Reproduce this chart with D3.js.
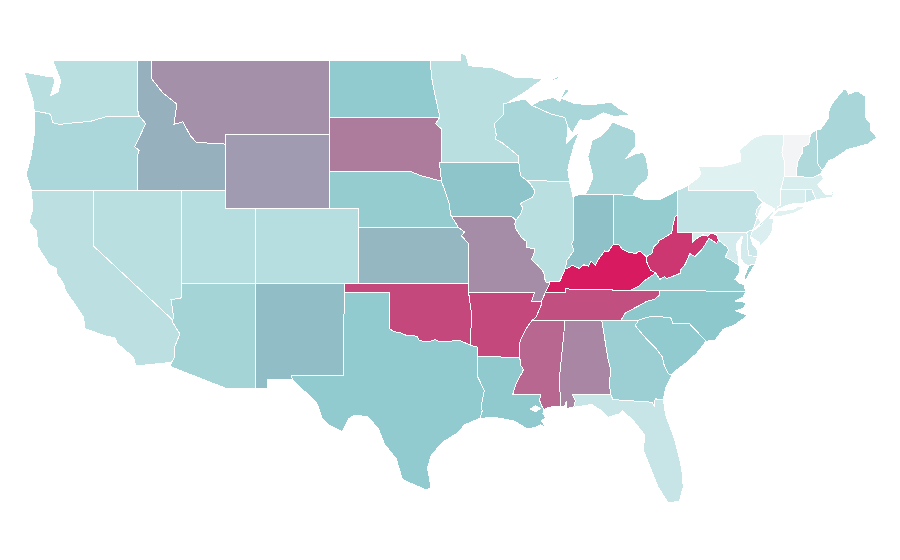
<!DOCTYPE html>
<meta charset="utf-8">
<style>
body { margin: 0; background: #fff; }
.state { stroke: #fff; stroke-width: 1px; shape-rendering: crispEdges; fill-rule: evenodd; }
</style>
<svg width="900" height="560"></svg>
<script src="https://d3js.org/d3.v7.min.js"></script>
<script>

// shared borders, [lon, lat], so neighbouring states line up
var stCroix = [[-92.01,46.71],[-92.29,46.66],[-92.29,46.07],[-92.88,45.6],[-92.75,45.0],[-92.8,44.75],[-92.35,44.56],[-91.92,44.3],[-91.25,43.85],[-91.22,43.5]];
var missWi = [[-91.22,43.5],[-91.15,43.0],[-91.06,42.75],[-90.64,42.51]];
var missIa = [[-90.64,42.51],[-90.42,42.33],[-90.15,41.98],[-90.18,41.8],[-90.34,41.6],[-91.05,41.33],[-91.1,41.23],[-90.95,41.07],[-91.11,40.7],[-91.42,40.38]];
var missMo = [[-91.42,40.38],[-91.5,40.2],[-91.42,39.93],[-91.06,39.47],[-90.73,39.25],[-90.67,38.93],[-90.12,38.83],[-90.18,38.63],[-90.37,38.26],[-89.95,37.96],[-89.52,37.57],[-89.51,37.3],[-89.38,37.05],[-89.13,36.98]];
var missBoot = [[-89.13,36.98],[-89.42,36.5],[-89.7,36.0]];
var missTn = [[-89.7,36.0],[-89.67,35.88],[-90.07,35.13],[-90.3,35.0]];
var missAr = [[-90.3,35.0],[-90.58,34.72],[-90.93,34.22],[-91.08,33.97],[-91.2,33.7],[-91.16,33.0]];
var missLa = [[-91.16,33.0],[-91.09,32.56],[-90.91,32.33],[-91.03,32.12],[-91.4,31.6],[-91.52,31.27],[-91.63,31.0]];
var pearl = [[-89.73,31.0],[-89.82,30.67],[-89.63,30.3],[-89.53,30.18]];
var wabash = [[-87.52,39.35],[-87.65,39.1],[-87.5,38.75],[-87.98,38.2],[-88.06,37.8]];
var ohioIl = [[-89.13,36.98],[-89.17,37.07],[-88.5,37.07],[-88.42,37.15],[-88.06,37.8]];
var ohioIn = [[-88.06,37.8],[-87.93,37.79],[-87.6,37.95],[-87.13,37.79],[-86.82,37.98],[-86.52,37.92],[-86.33,38.17],[-86.05,37.96],[-85.85,38.26],[-85.42,38.73],[-85.17,38.69],[-84.82,39.1]];
var ohioOh = [[-84.82,39.1],[-84.48,39.1],[-84.23,38.83],[-83.78,38.65],[-83.3,38.6],[-83.03,38.73],[-82.6,38.42]];
var ohioWv = [[-82.6,38.42],[-82.22,38.6],[-82.09,38.97],[-81.75,39.18],[-81.75,39.27],[-81.45,39.41],[-80.87,39.7],[-80.83,40.0],[-80.65,40.58],[-80.52,40.64]];
var bigSandy = [[-82.6,38.42],[-82.59,38.17],[-82.3,37.68],[-81.97,37.54]];
var kyVa = [[-81.97,37.54],[-82.72,37.12],[-83.07,36.85],[-83.68,36.6]];
var wvVa = [[-81.97,37.54],[-81.68,37.2],[-81.36,37.33],[-81.22,37.24],[-80.85,37.35],[-80.3,37.52],[-80.3,37.68],[-79.97,38.0],[-79.65,38.58],[-79.3,38.42],[-78.87,38.77],[-78.35,39.4],[-77.83,39.13],[-77.72,39.32]];
var potomacWv = [[-79.48,39.21],[-79.07,39.47],[-78.77,39.6],[-78.45,39.52],[-78.22,39.68],[-77.83,39.6],[-77.72,39.32]];
var potomacVa = [[-77.72,39.32],[-77.12,38.93],[-77.04,38.79],[-77.25,38.4],[-76.95,38.27],[-76.32,37.95]];
var tnNc = [[-81.68,36.59],[-81.7,36.35],[-82.05,36.12],[-82.6,36.0],[-83.1,35.77],[-84.0,35.4],[-84.32,34.99]];
var ncSc = [[-83.11,35.0],[-82.3,35.2],[-81.04,35.15],[-80.93,35.1],[-80.8,34.82],[-79.67,34.8],[-78.55,33.86]];
var savannah = [[-83.11,35.0],[-83.35,34.7],[-82.55,33.95],[-81.95,33.48],[-81.5,33.0],[-81.4,32.6],[-81.12,32.12],[-80.87,32.03]];
var gaFl = [[-85.0,31.0],[-84.86,30.71],[-82.2,30.57],[-82.05,30.36],[-82.0,30.75],[-81.44,30.71]];
var chatt = [[-85.61,34.98],[-85.18,32.87],[-85.0,32.3],[-85.1,31.57],[-85.0,31.0]];
var perdido = [[-87.6,31.0],[-87.4,30.65],[-87.5,30.3]];
var msAl = [[-88.2,35.0],[-88.1,34.9],[-88.47,31.9],[-88.4,30.37]];
var redRiver = [[-100.0,34.56],[-99.7,34.38],[-99.2,34.3],[-98.95,34.2],[-98.1,34.13],[-97.95,33.88],[-97.2,33.85],[-96.9,33.95],[-96.6,33.85],[-95.8,33.87],[-95.2,33.9],[-94.48,33.64],[-94.04,33.55]];
var sabine = [[-94.04,32.0],[-93.55,31.2],[-93.75,30.4],[-93.7,30.1],[-93.85,29.7]];
var missouriNe = [[-96.45,42.49],[-96.1,41.7],[-95.9,41.2],[-95.85,40.7],[-95.77,40.59],[-95.31,40.0]];
var missouriKs = [[-95.31,40.0],[-94.9,39.75],[-95.1,39.55],[-94.61,39.11]];
var bigSioux = [[-96.45,43.5],[-96.6,43.5],[-96.45,42.49]];
var redNorth = [[-97.23,49.0],[-97.1,48.0],[-96.85,47.0],[-96.56,45.94]];
var snake = [[-117.04,46.43],[-116.9,46.0],[-116.46,45.6],[-116.9,44.85],[-117.22,44.35],[-116.9,44.15],[-117.03,43.83],[-117.03,42.0]];
var columbia = [[-117.04,46.43],[-116.92,46.0],[-118.98,46.0],[-119.3,45.93],[-120.2,45.72],[-121.2,45.65],[-122.3,45.55],[-122.75,45.65],[-122.9,46.1],[-123.4,46.2],[-124.0,46.27]];
var bitterroot = [[-116.05,49.0],[-116.05,48.0],[-115.3,47.25],[-114.35,46.65],[-114.55,45.55],[-113.95,45.7],[-113.45,44.95],[-113.05,44.6],[-112.3,44.55],[-111.85,44.55],[-111.5,44.55],[-111.05,44.48]];
var colorado = [[-114.63,35.0],[-114.63,34.87],[-114.15,34.25],[-114.53,33.5],[-114.5,33.0],[-114.72,32.72]];
var delaware = [[-75.35,42.0],[-75.07,41.77],[-75.05,41.6],[-74.7,41.36]];
var delawareNj = [[-74.7,41.36],[-75.13,40.98],[-75.2,40.68],[-74.73,40.2],[-75.13,39.95],[-75.42,39.8]];
var connRiver = [[-71.5,45.01],[-71.6,44.5],[-72.05,44.3],[-72.05,44.0],[-72.33,43.6],[-72.45,43.0],[-72.46,42.73]];
var nyNe = [[-73.34,45.01],[-73.35,44.23],[-73.43,44.03],[-73.25,43.55],[-73.27,42.75],[-73.5,42.05]];

function rev(a) { return a.slice().reverse(); }

var stateNames = ["WA","OR","CA","NV","ID","MT","WY","UT","AZ","CO","NM","ND","SD","NE","KS","OK","TX","MN","IA","MO","AR","LA","WI","IL","MI","IN","OH","KY","TN","MS","AL","GA","FL","SC","NC","VA","WV","PA","NY","VT","NH","ME","MA","CT","RI","NJ","DE","MD"];

var stateValues = [28,35,27,28,57,66,63,30,38,30,53,47,72,46,55,87,47,28,51,67,87,48,36,28,36,52,46,100,85,78,69,43,22,47,50,46,92,25,10,0,33,36,14,14,20,12,20,16];

var stateShapes = [
  // WA
  [[[[-117.03,49.0],[-122.75,49.0],[-122.5,48.5],[-122.2,47.9],[-122.4,47.3],[-122.9,47.1],[-122.6,47.9],[-122.75,48.15],[-123.2,48.15],[-124.7,48.38],[-124.1,46.9],[-124.0,46.27]].concat(rev(columbia))]],
  // OR
  [[columbia.concat([[-124.0,45.0],[-124.2,43.9],[-124.55,42.84],[-124.2,42.0]], rev(snake))]],
  // CA
  [[[[-124.2,42.0],[-120.0,42.0],[-120.0,39.0]].concat(colorado, [[-117.12,32.53],[-117.3,33.0],[-118.4,33.75],[-118.5,34.03],[-119.2,34.15],[-120.6,34.55],[-120.65,35.15],[-121.9,36.6],[-122.0,36.95],[-122.5,37.5],[-122.5,37.8],[-123.0,38.0],[-123.75,38.95],[-123.85,39.8],[-124.35,40.3],[-124.1,41.0]])]],
  // NV
  [[[[-120.0,42.0],[-114.04,42.0],[-114.04,36.2],[-114.75,36.1],[-114.57,35.15],[-114.63,35.0],[-120.0,39.0]]]],
  // ID
  [[bitterroot.concat([[-111.05,42.0],[-117.03,42.0]], rev(snake).slice(1), [[-117.03,49.0]])]],
  // MT
  [[bitterroot.concat([[-111.05,45.0],[-104.05,45.0],[-104.05,49.0]])]],
  // WY
  [[[[-111.05,45.0],[-104.05,45.0],[-104.05,41.0],[-111.05,41.0]]]],
  // UT
  [[[[-114.04,42.0],[-111.05,42.0],[-111.05,41.0],[-109.05,41.0],[-109.05,37.0],[-114.04,37.0]]]],
  // AZ
  [[[[-114.04,37.0],[-109.05,37.0],[-109.05,31.33],[-111.07,31.33],[-114.81,32.5]].concat(rev(colorado), [[-114.57,35.15],[-114.75,36.1],[-114.04,36.2]])]],
  // CO
  [[[[-109.05,41.0],[-102.05,41.0],[-102.05,37.0],[-109.05,37.0]]]],
  // NM
  [[[[-109.05,37.0],[-103.0,37.0],[-103.04,36.5],[-103.06,32.0],[-106.62,32.0],[-106.53,31.78],[-108.21,31.78],[-108.21,31.33],[-109.05,31.33]]]],
  // ND
  [[[[-104.05,49.0]].concat(redNorth, [[-104.05,45.94]])]],
  // SD
  [[[[-104.05,45.94],[-96.56,45.94],[-96.85,45.6],[-96.45,45.3]].concat(bigSioux, [[-97.9,42.8],[-98.5,43.0],[-104.05,43.0]])]],
  // NE
  [[[[-104.05,43.0],[-98.5,43.0],[-97.9,42.8]].concat(missouriNe, [[-102.05,40.0],[-102.05,41.0],[-104.05,41.0]])]],
  // KS
  [[missouriKs.concat([[-94.62,37.0],[-102.05,37.0],[-102.05,40.0]])]],
  // OK
  [[[[-103.0,37.0],[-94.62,37.0],[-94.62,36.5],[-94.43,35.4],[-94.48,33.64]].concat(rev(redRiver).slice(1), [[-100.0,36.5],[-103.04,36.5]])]],
  // TX
  [[[[-103.06,32.0],[-103.04,36.5],[-100.0,36.5]].concat(redRiver, [[-94.04,33.02]], sabine, [[-94.9,29.35],[-95.3,28.95],[-96.4,28.4],[-97.15,27.7],[-97.4,27.0],[-97.15,25.96],[-97.5,25.85],[-99.1,26.4],[-99.5,27.5],[-100.3,28.3],[-100.7,29.1],[-101.4,29.77],[-102.3,29.88],[-102.7,29.7],[-103.15,28.98],[-104.0,29.3],[-104.5,29.65],[-104.9,30.55],[-106.5,31.75],[-106.62,32.0]])]],
  // MN
  [[[[-97.23,49.0],[-95.15,49.0],[-95.15,49.38],[-94.82,49.32],[-94.6,48.72],[-93.0,48.6],[-92.0,48.3],[-91.4,48.07],[-90.75,48.1],[-89.6,48.0],[-90.8,47.3]].concat(stCroix, [[-96.45,43.5],[-96.45,45.3],[-96.85,45.6]], rev(redNorth))]],
  // IA
  [[[[-96.6,43.5],[-91.22,43.5]].concat(missWi.slice(1), missIa.slice(1), [[-91.73,40.61],[-95.77,40.59],[-95.85,40.7],[-95.9,41.2],[-96.1,41.7],[-96.45,42.49]])]],
  // MO
  [[[[-95.77,40.59],[-91.73,40.61]].concat(missMo, missBoot.slice(1), [[-90.37,36.0],[-90.15,36.5],[-94.62,36.5],[-94.62,37.0]], rev(missouriKs), [[-95.31,40.0]])]],
  // AR
  [[[[-94.62,36.5],[-90.15,36.5],[-90.37,36.0],[-89.7,36.0]].concat(missTn.slice(1), missAr.slice(1), [[-94.04,33.02],[-94.04,33.55],[-94.48,33.64],[-94.43,35.4]])]],
  // LA, second ring is Lake Pontchartrain
  [[[[-94.04,33.02]].concat(missLa, pearl, [[-89.6,29.95],[-89.4,29.75],[-89.7,29.55],[-89.25,29.1],[-89.45,29.25],[-89.75,29.35],[-90.1,29.2],[-90.65,29.15],[-91.0,29.3],[-91.5,29.55],[-92.1,29.65],[-92.9,29.75]], rev(sabine)),
    [[-90.45,30.2],[-90.1,30.38],[-89.75,30.25],[-90.1,30.05]]]],
  // WI
  [[[[-92.01,46.71],[-91.0,46.9],[-90.75,46.9],[-90.33,46.58],[-89.1,46.13],[-88.1,45.92],[-87.75,45.35],[-87.9,45.4],[-88.0,44.55],[-87.1,45.2],[-87.5,44.4],[-87.8,43.5],[-87.9,43.1],[-87.8,42.49]].concat(rev(missWi), rev(stCroix).slice(1))]],
  // IL
  [[[[-90.64,42.51],[-87.8,42.49],[-87.55,41.65]].concat(wabash, rev(ohioIl).slice(1), rev(missMo).slice(1), rev(missIa).slice(1))]],
  // MI
  [[[[-86.82,41.76],[-84.8,41.76],[-83.5,41.73],[-83.35,41.95],[-83.1,42.25],[-82.5,42.6],[-82.45,43.0],[-82.6,43.75],[-82.8,44.05],[-83.4,43.95],[-84.0,43.7],[-83.35,44.35],[-83.3,45.0],[-83.5,45.25],[-84.9,45.68],[-85.2,45.3],[-85.7,44.9],[-86.25,44.7],[-86.55,43.8],[-86.2,42.7],[-86.55,42.0]]],
   [[[-90.33,46.58],[-89.8,46.83],[-88.9,47.0],[-88.45,46.8],[-88.1,47.42],[-87.75,47.4],[-88.3,46.95],[-87.5,46.7],[-86.5,46.6],[-85.3,46.72],[-85.0,46.75],[-84.5,46.45],[-83.7,46.06],[-84.75,45.98],[-85.5,46.17],[-86.5,45.75],[-87.08,45.8],[-87.6,45.1],[-87.9,45.4],[-88.1,45.92],[-89.1,46.13]]],
   [[[-89.2,47.87],[-88.5,48.17],[-88.6,48.0]]]],
  // IN
  [[[[-87.55,41.65],[-87.2,41.76],[-84.8,41.76],[-84.82,39.1]].concat(rev(ohioIn).slice(1), rev(wabash).slice(1))]],
  // OH
  [[[[-84.8,41.76],[-83.5,41.73],[-82.7,41.5],[-81.7,41.5],[-80.52,41.98],[-80.52,40.64]].concat(rev(ohioWv).slice(1), rev(ohioOh).slice(1))]],
  // KY
  [[ohioIl.concat(ohioIn.slice(1), ohioOh.slice(1), bigSandy.slice(1), kyVa.slice(1), [[-88.07,36.68],[-88.07,36.5],[-89.42,36.5]])]],
  // TN
  [[[[-89.42,36.5],[-88.07,36.5],[-88.07,36.68],[-83.68,36.6],[-81.68,36.59]].concat(tnNc.slice(1), [[-90.3,35.0]], rev(missTn).slice(1))]],
  // MS
  [[[[-90.3,35.0]].concat(msAl, [[-89.2,30.3],[-89.53,30.18]], rev(pearl).slice(1), [[-91.63,31.0]], rev(missLa).slice(1), rev(missAr).slice(1))]],
  // AL
  [[chatt.concat(perdido, [[-88.0,30.23],[-88.0,30.65],[-88.13,30.32]], rev(msAl))]],
  // GA
  [[chatt.concat(gaFl.slice(1), [[-81.3,31.3]], rev(savannah), [[-84.32,34.99]])]],
  // FL
  [[[[-87.6,31.0]].concat(gaFl, [[-81.3,29.9],[-80.65,28.5],[-80.2,27.0],[-80.1,26.0],[-80.35,25.25],[-81.1,25.13],[-81.8,26.0],[-82.3,27.0],[-82.8,28.0],[-82.7,28.8],[-83.5,29.6],[-84.2,30.1],[-84.4,29.95],[-85.2,29.75],[-85.7,30.15],[-86.3,30.45],[-87.5,30.3],[-87.4,30.65]])]],
  // SC
  [[ncSc.concat([[-79.2,33.2],[-79.9,32.7],[-80.65,32.25]], rev(savannah))]],
  // NC
  [[[[-81.68,36.59],[-75.87,36.55],[-76.05,36.25],[-76.6,36.03],[-75.85,35.95],[-76.0,35.65],[-76.55,35.5],[-75.75,35.25],[-76.6,34.75],[-77.4,34.5],[-77.93,33.93]].concat(rev(ncSc), [[-84.32,34.99]], rev(tnNc).slice(1))]],
  // VA
  [[rev(kyVa).concat(wvVa.slice(1), potomacVa.slice(1), [[-76.3,37.55],[-76.6,37.2],[-76.3,37.0],[-76.0,36.92],[-75.87,36.55],[-81.68,36.59]])],
   [[[-75.65,37.95],[-75.24,38.03],[-75.9,37.12],[-75.98,37.3]]]],
  // WV
  [[ohioWv.concat([[-80.52,39.72],[-79.48,39.72]], potomacWv, rev(wvVa).slice(1), rev(bigSandy).slice(1))]],
  // PA
  [[[[-80.52,41.98],[-79.76,42.27],[-79.76,42.0]].concat(delaware, delawareNj.slice(1), [[-75.6,39.84],[-75.79,39.72],[-80.52,39.72]])]],
  // NY
  [[[[-79.76,42.27],[-79.06,42.7],[-78.9,42.9],[-79.05,43.26],[-77.5,43.27],[-76.2,43.55],[-76.2,43.9],[-76.35,44.13],[-75.3,44.85],[-74.7,45.0]].concat(nyNe, [[-73.55,41.3],[-73.48,41.21],[-73.73,41.1],[-73.65,40.99],[-73.95,40.75],[-73.92,41.0]], rev(delaware), [[-79.76,42.0]])],
   [[[-74.03,40.6],[-73.7,40.88],[-72.6,40.98],[-72.3,41.15],[-71.87,41.07],[-72.5,40.8],[-73.5,40.6]]]],
  // VT
  [[[[-73.34,45.01]].concat(connRiver, [[-73.27,42.75],[-73.25,43.55],[-73.43,44.03],[-73.35,44.23]])]],
  // NH
  [[connRiver.concat([[-71.29,42.7],[-70.82,42.87],[-70.7,43.07],[-70.98,43.4],[-71.08,45.3]])]],
  // ME
  [[[[-71.08,45.3],[-70.85,45.25],[-70.4,45.75],[-70.25,45.95],[-70.3,46.2],[-70.0,46.7],[-69.23,47.46],[-69.05,47.43],[-68.9,47.18],[-68.33,47.36],[-67.79,47.07],[-67.78,45.94],[-67.45,45.6],[-67.45,45.28],[-67.0,44.85],[-67.6,44.5],[-68.5,44.3],[-69.0,44.2],[-69.8,43.75],[-70.25,43.6],[-70.6,43.15],[-70.7,43.07],[-70.98,43.4]]]],
  // MA
  [[[[-73.5,42.05],[-73.27,42.75],[-71.29,42.7],[-70.82,42.87],[-70.6,42.65],[-71.0,42.3],[-70.65,41.95],[-70.5,41.78],[-70.0,41.8],[-70.2,42.07],[-69.95,41.9],[-69.98,41.65],[-70.65,41.55],[-71.12,41.5],[-71.33,41.9],[-71.38,42.02],[-71.8,42.02]]]],
  // CT
  [[[[-73.5,42.05],[-71.8,42.02],[-71.8,41.42],[-71.86,41.32],[-72.9,41.25],[-73.65,40.99],[-73.73,41.1],[-73.48,41.21],[-73.55,41.3]]]],
  // RI
  [[[[-71.8,42.02],[-71.38,42.02],[-71.33,41.9],[-71.12,41.5],[-71.86,41.32],[-71.8,41.42]]]],
  // NJ
  [[rev(delawareNj).concat([[-75.5,39.62],[-75.55,39.5],[-74.97,39.2],[-74.93,38.93],[-74.4,39.4],[-74.1,39.75],[-73.99,40.45],[-74.25,40.5],[-74.03,40.7],[-73.92,41.0]])]],
  // DE
  [[[[-75.79,39.72],[-75.6,39.84],[-75.42,39.8],[-75.5,39.62],[-75.55,39.5],[-75.4,39.1],[-75.1,38.8],[-75.05,38.45],[-75.69,38.46]]]],
  // MD
  [[[[-79.48,39.72],[-75.79,39.72],[-75.69,38.46],[-75.05,38.45],[-75.24,38.03],[-75.65,37.95],[-75.95,38.0],[-76.23,38.35],[-76.25,38.9],[-76.08,39.55],[-76.45,39.2],[-76.5,38.9],[-76.38,38.4],[-76.32,37.95]].concat(rev(potomacVa).slice(1), rev(potomacWv).slice(1))]]
];

var svg = d3.select("svg");

// the map is plain lon/lat stretched onto the page
var x = d3.scaleLinear().domain([-117.03, -80.52]).range([137.3, 677]);
var y = d3.scaleLinear().domain([49, 37]).range([60.5, 283]);

var stretch = d3.geoTransform({
  point: function(lon, lat) { this.stream.point(x(lon), y(lat)); }
});
var path = d3.geoPath().projection(stretch);

var color = d3.scaleLinear()
    .domain([0, 10, 50, 100])
    .range(["#f3f4f5", "#e0f1f2", "#8cc8cc", "#d81b60"]);

function closeRings(polys) {
  return polys.map(function(poly) {
    return poly.map(function(ring) { return ring.concat([ring[0]]); });
  });
}

var states = stateNames.map(function(name, i) {
  return {
    type: "Feature",
    id: name,
    properties: { value: stateValues[i] },
    geometry: { type: "MultiPolygon", coordinates: closeRings(stateShapes[i]) }
  };
});

svg.selectAll(".state")
    .data(states)
  .enter().append("path")
    .attr("class", "state")
    .attr("d", path)
    .attr("fill", function(d) { return color(d.properties.value); });

</script>
